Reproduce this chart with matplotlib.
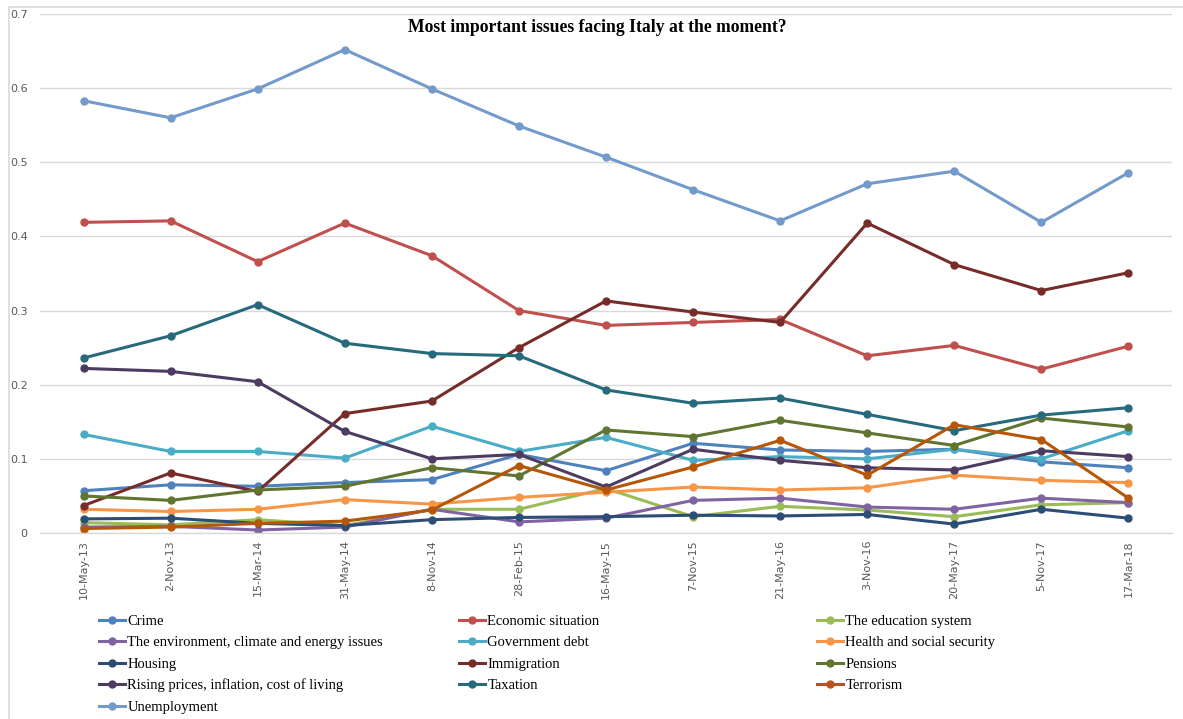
import matplotlib
matplotlib.use("Agg")
import matplotlib.pyplot as plt
from matplotlib.lines import Line2D
import numpy as np

dates = ["10-May-13", "2-Nov-13", "15-Mar-14", "31-May-14", "8-Nov-14", "28-Feb-15",
         "16-May-15", "7-Nov-15", "21-May-16", "3-Nov-16", "20-May-17", "5-Nov-17", "17-Mar-18"]

crime = [0.057, 0.065, 0.063, 0.068, 0.072, 0.106, 0.084, 0.121, 0.112, 0.110, 0.113, 0.096, 0.088]
economic = [0.419, 0.421, 0.366, 0.418, 0.374, 0.300, 0.280, 0.284, 0.288, 0.239, 0.253, 0.221, 0.252]
education = [0.014, 0.011, 0.018, 0.010, 0.032, 0.032, 0.060, 0.022, 0.036, 0.031, 0.022, 0.038, 0.041]
environment = [0.008, 0.009, 0.004, 0.008, 0.032, 0.015, 0.020, 0.044, 0.047, 0.035, 0.032, 0.047, 0.041]
gov_debt = [0.133, 0.110, 0.110, 0.101, 0.144, 0.110, 0.129, 0.098, 0.103, 0.100, 0.113, 0.100, 0.138]
health = [0.032, 0.029, 0.032, 0.045, 0.039, 0.048, 0.055, 0.062, 0.058, 0.061, 0.078, 0.071, 0.068]
housing = [0.019, 0.020, 0.013, 0.010, 0.018, 0.021, 0.022, 0.024, 0.023, 0.025, 0.012, 0.032, 0.020]
immigration = [0.037, 0.081, 0.056, 0.161, 0.178, 0.250, 0.313, 0.298, 0.284, 0.418, 0.362, 0.327, 0.351]
pensions = [0.050, 0.044, 0.058, 0.063, 0.088, 0.077, 0.139, 0.130, 0.152, 0.135, 0.118, 0.155, 0.143]
rising_prices = [0.222, 0.218, 0.204, 0.137, 0.100, 0.106, 0.062, 0.113, 0.098, 0.088, 0.085, 0.111, 0.103]
taxation = [0.236, 0.266, 0.308, 0.256, 0.242, 0.239, 0.193, 0.175, 0.182, 0.160, 0.138, 0.159, 0.169]
terrorism = [0.006, 0.008, 0.013, 0.016, 0.031, 0.091, 0.058, 0.089, 0.125, 0.078, 0.146, 0.126, 0.047]
unemployment = [0.583, 0.560, 0.599, 0.652, 0.599, 0.549, 0.507, 0.463, 0.421, 0.471, 0.488, 0.419, 0.486]

labels = ["Crime", "Economic situation", "The education system",
          "The environment, climate and energy issues", "Government debt",
          "Health and social security", "Housing", "Immigration", "Pensions",
          "Rising prices, inflation, cost of living", "Taxation", "Terrorism",
          "Unemployment"]
series = [crime, economic, education, environment, gov_debt, health, housing,
          immigration, pensions, rising_prices, taxation, terrorism, unemployment]
colors = ["#4F81BD", "#C0504D", "#9BBB59", "#8064A2", "#4BACC6", "#F79646",
          "#2C4D75", "#772C2A", "#5F7530", "#4D3B62", "#276A7C", "#B65708",
          "#729ACA"]

W, H = 1183, 719
fig = plt.figure(figsize=(W / 100, H / 100), dpi=100)
ax = fig.add_axes([40 / W, 1 - 533 / H, (1172 - 40) / W, (533 - 14) / H])

x = np.arange(len(dates))
for vals, lab, c in zip(series, labels, colors):
    ax.plot(x, vals, color=c, lw=2.2, marker="o", ms=5, label=lab,
            solid_joinstyle="round")

ax.set_xlim(-0.5, len(dates) - 0.5)
ax.set_ylim(0, 0.7)
ax.set_yticks(np.arange(0, 0.71, 0.1))
ax.set_yticklabels(["0", "0.1", "0.2", "0.3", "0.4", "0.5", "0.6", "0.7"])
ax.set_xticks(x)
ax.set_xticklabels(dates, rotation=90)
ax.tick_params(axis="both", length=0, labelsize=8, labelcolor="#595959")
ax.tick_params(axis="y", pad=9)
ax.tick_params(axis="x", pad=5)
ax.grid(axis="y", color="#d9d9d9", lw=1)
ax.set_axisbelow(True)
for s in ["left", "right", "top"]:
    ax.spines[s].set_visible(False)
ax.spines["bottom"].set_color("#d9d9d9")
ax.spines["bottom"].set_linewidth(1)

fig.text(597 / W, 1 - 28 / H, "Most important issues facing Italy at the moment?",
         ha="center", va="center", fontsize=12.7, fontweight="bold",
         family="Liberation Serif")

# chart border
fig.add_artist(Line2D([9 / W, 1.0], [1 - 7 / H, 1 - 7 / H], color="#d9d9d9", lw=1.2))
fig.add_artist(Line2D([9 / W, 9 / W], [0, 1 - 7 / H], color="#d9d9d9", lw=1.2))

# legend in three columns, row-major order
cols = [[0, 3, 6, 9, 12], [1, 4, 7, 10], [2, 5, 8, 11]]
xs = [99, 459, 817]
for idxs, xp in zip(cols, xs):
    hs = [Line2D([], [], color=colors[i], lw=2.2, marker="o", ms=5) for i in idxs]
    fig.legend(hs, [labels[i] for i in idxs], loc="upper left",
               bbox_to_anchor=(xp / W, 1 - 615 / H), frameon=False,
               prop={"family": "Liberation Serif", "size": 10.5},
               handlelength=1.8, handletextpad=0.15, labelspacing=0.55,
               borderpad=0, borderaxespad=0)

fig.savefig("out.png", dpi=100)
